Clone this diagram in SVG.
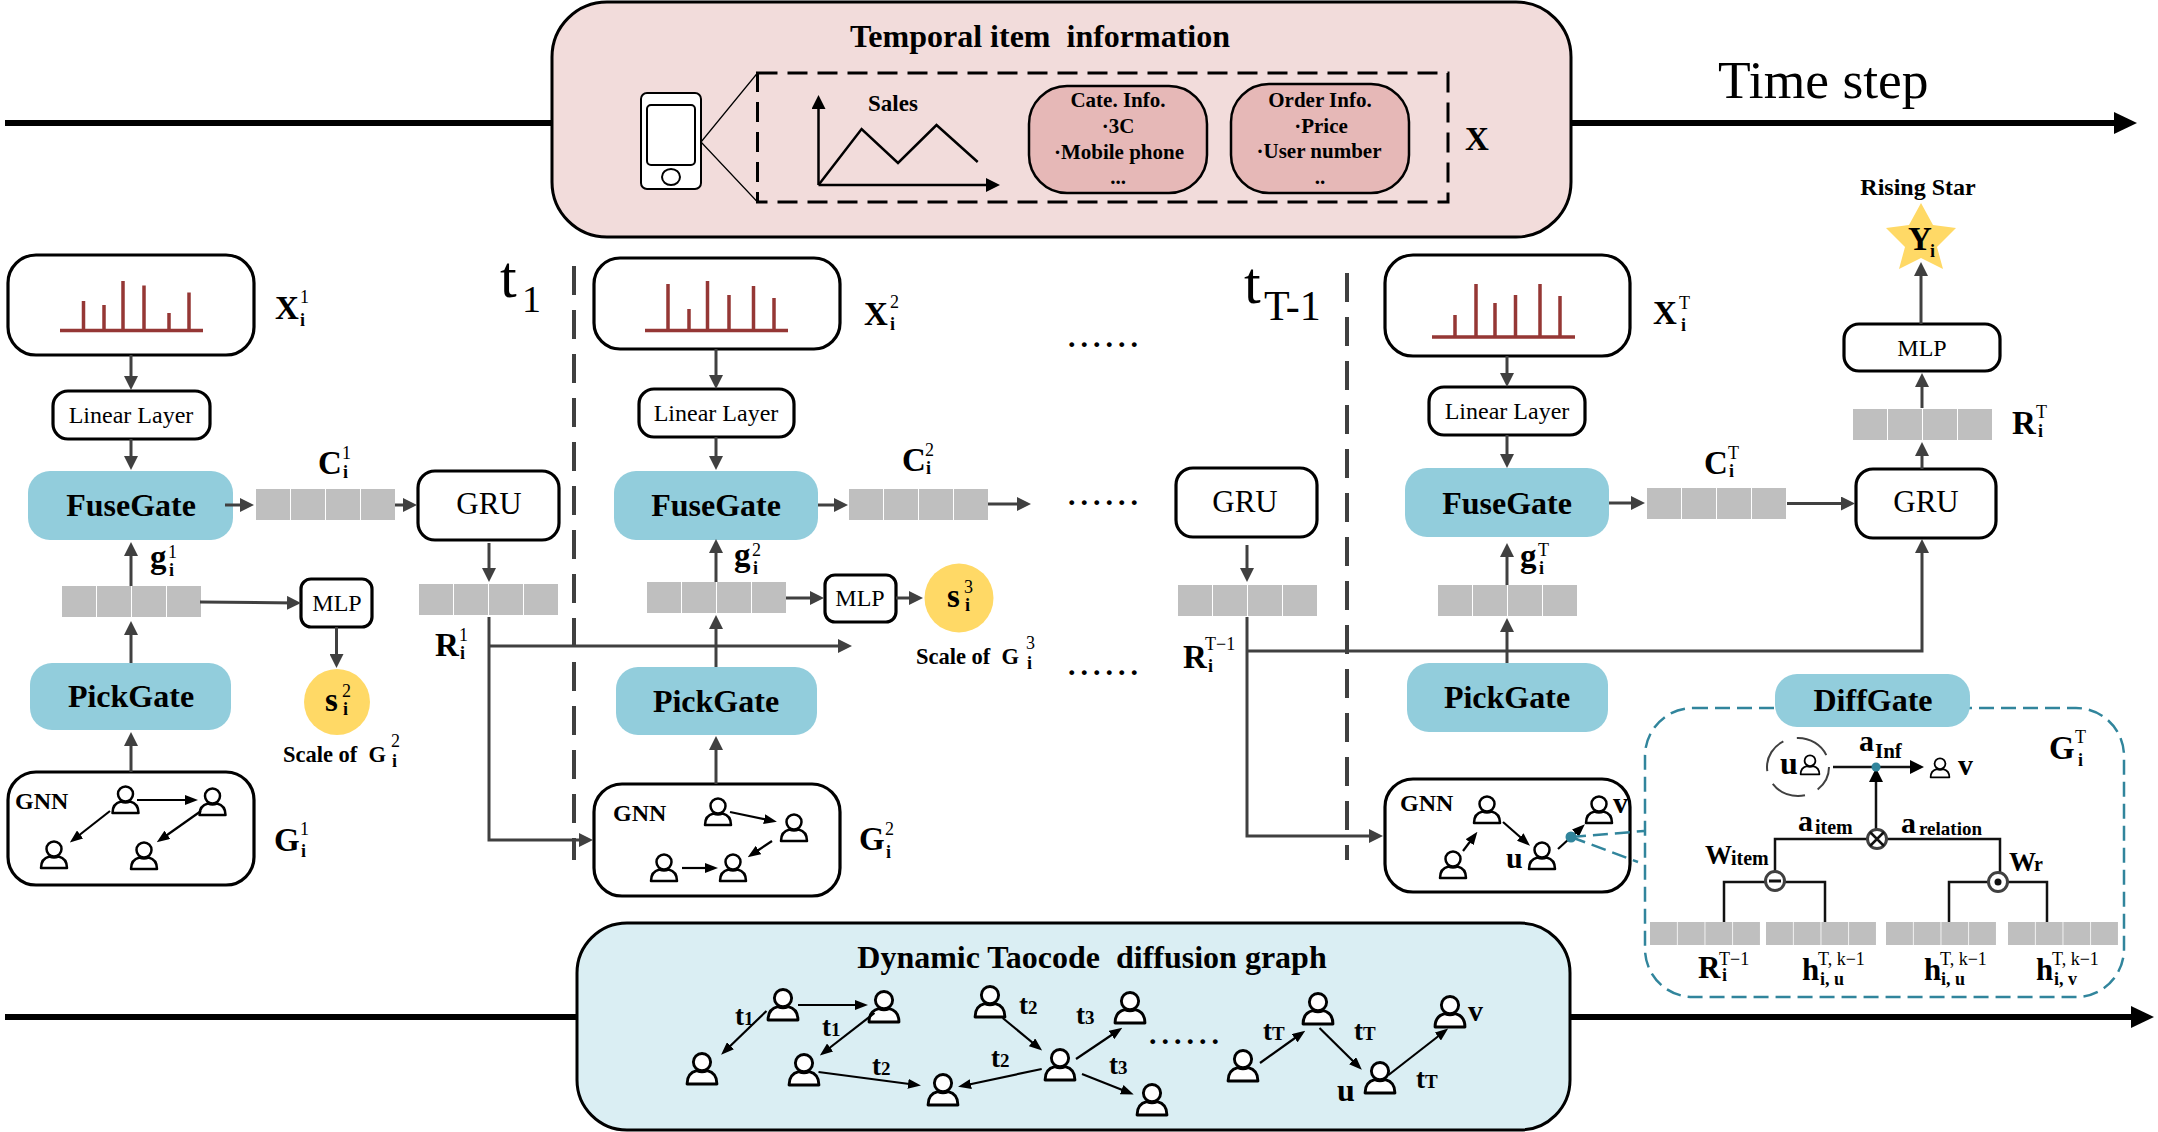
<svg xmlns="http://www.w3.org/2000/svg" width="2158" height="1132" viewBox="0 0 2158 1132">
<style>
text{font-family:"Liberation Serif","Times New Roman",serif;fill:#000;white-space:pre}
.b{font-weight:700}.c{text-anchor:middle}
.gate{font-size:32px;font-weight:700;text-anchor:middle}
.gru{font-size:31px;text-anchor:middle}
.mlp{font-size:24px;text-anchor:middle}
.lin{font-size:24px;text-anchor:middle}
.m{font-size:33px;font-weight:700}
.sup{font-size:18px}
.sub{font-size:18px;font-weight:700}
.small{font-size:24px;font-weight:700;text-anchor:middle}
.info{font-size:21px;font-weight:700;text-anchor:middle}
.dots{font-size:30px;font-weight:700;letter-spacing:5px}
.gl{font-size:30px;font-weight:700}
.gs{font-size:27px;font-weight:700}
.gnn{font-size:24px;font-weight:700}
.box{fill:#fff;stroke:#000;stroke-width:3.2}
.fill-gate{fill:#92CDDC}
.scale{fill:#FFD966}
.bar{fill:none;stroke:#953735;stroke-width:3.5}
.pink{fill:#E6B8B7;stroke:#000;stroke-width:2.5}
.cn3{fill:none;stroke:#404040;stroke-width:3;marker-end:url(#ah)}
.arr{fill:none;stroke:#000;stroke-width:2.2;marker-end:url(#ahs)}
.tree{fill:none;stroke:#111;stroke-width:2.5}
.axis{fill:none;stroke:#000;stroke-width:6}
.dash{fill:none;stroke:#404040;stroke-width:4;stroke-dasharray:29 15}
.teal{fill:none;stroke:#31859C;stroke-width:2.5;stroke-dasharray:15 7}
.op{fill:#fff;stroke:#404040;stroke-width:3}
.h{font-size:31px;font-weight:700}
.w{font-size:27px;font-weight:700}
.ts{font-size:19px}
</style>
<defs>
<marker id="ah" markerUnits="userSpaceOnUse" viewBox="0 0 14 14" markerWidth="14" markerHeight="14" refX="10" refY="7" orient="auto"><path d="M0 0L14 7L0 14Z" fill="#404040"/></marker>
<marker id="ahs" markerUnits="userSpaceOnUse" viewBox="0 0 13 10" markerWidth="13" markerHeight="10" refX="9" refY="5" orient="auto"><path d="M0 0L13 5L0 10Z" fill="#000"/></marker>
<marker id="ahk" markerUnits="userSpaceOnUse" viewBox="0 0 14 14" markerWidth="14" markerHeight="14" refX="10" refY="7" orient="auto"><path d="M0 0L14 7L0 14Z" fill="#000"/></marker>
<g id="p"><path d="M-13 13Q-13 3.5 -4.5 1.5Q0 3.5 4.5 1.5Q13 3.5 13 13Z" fill="#fff" stroke="#000" stroke-width="2.5" stroke-linejoin="round"/><circle cy="-6" r="7.5" fill="#fff" stroke="#000" stroke-width="2.5"/></g>
<g id="cells" fill="#BFBFBF"><rect width="34" height="31"/><rect x="35" width="34" height="31"/><rect x="70" width="34" height="31"/><rect x="105" width="34" height="31"/></g>
</defs>
<rect width="2158" height="1132" fill="#fff"/>

<g id="temporal">
<rect x="552" y="2" width="1019" height="235" rx="55" fill="#F2DCDB" stroke="#000" stroke-width="3"/>
<text class="b c" x="1040" y="47" style="font-size:32px">Temporal item  information</text>
<rect x="641" y="93" width="60" height="96" rx="6" fill="#fff" stroke="#000" stroke-width="2"/>
<rect x="647" y="105" width="48" height="60" rx="4" fill="#fff" stroke="#000" stroke-width="2"/>
<ellipse cx="671" cy="177" rx="9" ry="8" fill="#fff" stroke="#000" stroke-width="2"/>
<path d="M701 142L757.500 73M701 142L757.500 202" fill="none" stroke="#000" stroke-width="1.200"/>
<rect x="757.500" y="73" width="690.500" height="129" fill="none" stroke="#000" stroke-width="3" stroke-dasharray="20 10"/>
<path d="M818.500 185L861.600 129L898 163L936.500 125L977.700 162" fill="none" stroke="#000" stroke-width="2.500"/>
<path d="M818.500 185V99" fill="none" stroke="#000" stroke-width="2.500" marker-end="url(#ahk)"/>
<path d="M818.500 185H996" fill="none" stroke="#000" stroke-width="2.500" marker-end="url(#ahk)"/>
<text class="info" x="893" y="111" style="font-size:23px">Sales</text>
<rect x="1029" y="86" width="178" height="107" rx="38" class="pink"/>
<rect x="1231" y="84" width="178" height="109" rx="38" class="pink"/>
<text class="info" x="1118" y="107">Cate. Info.</text>
<text class="info" x="1118" y="133">·3C</text>
<text class="info" x="1119" y="159">·Mobile phone</text>
<text class="info" x="1118" y="184">...</text>
<text class="info" x="1320" y="107">Order Info.</text>
<text class="info" x="1321" y="133">·Price</text>
<text class="info" x="1319" y="158">·User number</text>
<text class="info" x="1320" y="184">..</text>
<text class="m" x="1465" y="150">X</text>
</g>
<g id="time-step"><text x="1718" y="98" font-size="53.500">Time step</text></g>

<g id="dynamic-graph">
<rect x="577" y="923" width="993" height="207" rx="50" fill="#DAEEF3" stroke="#000" stroke-width="3"/>
<text class="b c" x="1092" y="968" style="font-size:32px">Dynamic Taocode  diffusion graph</text>
<g transform="translate(783 1005) scale(1.150)"><use href="#p"/></g>
<g transform="translate(884 1007) scale(1.150)"><use href="#p"/></g>
<g transform="translate(702 1069) scale(1.150)"><use href="#p"/></g>
<g transform="translate(804 1070) scale(1.150)"><use href="#p"/></g>
<g transform="translate(943 1090) scale(1.150)"><use href="#p"/></g>
<g transform="translate(990 1002) scale(1.150)"><use href="#p"/></g>
<g transform="translate(1060 1065) scale(1.150)"><use href="#p"/></g>
<g transform="translate(1130 1008) scale(1.150)"><use href="#p"/></g>
<g transform="translate(1152 1100) scale(1.150)"><use href="#p"/></g>
<g transform="translate(1243 1066) scale(1.150)"><use href="#p"/></g>
<g transform="translate(1318 1009) scale(1.150)"><use href="#p"/></g>
<g transform="translate(1380 1078) scale(1.150)"><use href="#p"/></g>
<g transform="translate(1450 1012) scale(1.150)"><use href="#p"/></g>
<text class="gs" x="735" y="1025">t<tspan class="ts">1</tspan></text>
<text class="gs" x="822" y="1036">t<tspan class="ts">1</tspan></text>
<text class="gs" x="1019" y="1014">t<tspan class="ts">2</tspan></text>
<text class="gs" x="1076" y="1024">t<tspan class="ts">3</tspan></text>
<text class="gs" x="991" y="1067">t<tspan class="ts">2</tspan></text>
<text class="gs" x="872" y="1075">t<tspan class="ts">2</tspan></text>
<text class="gs" x="1109" y="1074">t<tspan class="ts">3</tspan></text>
<text class="gs" x="1263" y="1040">t<tspan class="ts">T</tspan></text>
<text class="gs" x="1354" y="1040">t<tspan class="ts">T</tspan></text>
<text class="gs" x="1416" y="1088">t<tspan class="ts">T</tspan></text>
<text class="gl" x="1337" y="1101" style="font-size:32px">u</text>
<text class="gl" x="1468" y="1021">v</text>
<text class="dots" x="1149" y="1044">......</text>
</g>

<g id="x1"><rect x="8" y="255" width="246" height="100" rx="28" class="box"/>
<path class="bar" d="M60 330.500H203M83.500 330V301M104 330V305M123 330V281M144 330V285.500M169 330V313M189 330V292.500"/></g>
<g id="x2"><rect x="594" y="258" width="246" height="91" rx="26" class="box"/>
<path class="bar" d="M645 330.500H788M668 330V284M689 330V309M707.500 330V281M729 330V295M753.500 330V286M774 330V298"/></g>
<g id="x3"><rect x="1385" y="255" width="245" height="101" rx="28" class="box"/>
<path class="bar" d="M1432 337H1575M1455 337V315M1476 337V284M1495 337V303M1515.500 337V295M1540 337V284M1560 337V296"/></g>
<g id="x-labels">
<text class="m" x="275" y="319">X</text><text class="sup" x="300" y="303">1</text><text class="sub" x="300" y="326">i</text>
<text class="m" x="864" y="325">X</text><text class="sup" x="890" y="308">2</text><text class="sub" x="890" y="330">i</text>
<text class="m" x="1653" y="324">X</text><text class="sup" x="1679" y="309">T</text><text class="sub" x="1681" y="331">i</text>
</g>

<g id="linear1"><rect x="53" y="391" width="157" height="48" rx="15" class="box"/><text class="lin" x="131" y="423">Linear Layer</text></g>
<g id="linear2"><rect x="639" y="389" width="155" height="48" rx="15" class="box"/><text class="lin" x="716" y="421">Linear Layer</text></g>
<g id="linear3"><rect x="1429" y="387" width="156" height="48" rx="15" class="box"/><text class="lin" x="1507" y="419">Linear Layer</text></g>

<g id="fuse1"><rect x="28" y="471" width="205" height="69" rx="22" class="fill-gate"/><text class="gate" x="131" y="516">FuseGate</text></g>
<g id="fuse2"><rect x="614" y="471" width="204" height="69" rx="22" class="fill-gate"/><text class="gate" x="716" y="516">FuseGate</text></g>
<g id="fuse3"><rect x="1405" y="468" width="204" height="69" rx="22" class="fill-gate"/><text class="gate" x="1507" y="514">FuseGate</text></g>
<g id="pick1"><rect x="30" y="663" width="201" height="67" rx="22" class="fill-gate"/><text class="gate" x="131" y="707">PickGate</text></g>
<g id="pick2"><rect x="616" y="667" width="201" height="68" rx="22" class="fill-gate"/><text class="gate" x="716" y="712">PickGate</text></g>
<g id="pick3"><rect x="1407" y="663" width="201" height="69" rx="22" class="fill-gate"/><text class="gate" x="1507" y="708">PickGate</text></g>

<g id="c-cells"><use href="#cells" x="256" y="489"/><use href="#cells" x="849" y="489"/><use href="#cells" x="1647" y="488"/></g>
<g id="g-cells"><use href="#cells" x="62" y="586"/><use href="#cells" x="647" y="582"/><use href="#cells" x="1438" y="585"/></g>
<g id="r-cells"><use href="#cells" x="419" y="584"/><use href="#cells" x="1178" y="585"/><use href="#cells" x="1853" y="409"/></g>
<g id="cell-labels">
<text class="m" x="318" y="474">C</text><text class="sup" x="342" y="459">1</text><text class="sub" x="343" y="478">i</text>
<text class="m" x="902" y="471">C</text><text class="sup" x="925" y="456">2</text><text class="sub" x="926" y="474">i</text>
<text class="m" x="1704" y="474">C</text><text class="sup" x="1728" y="459">T</text><text class="sub" x="1729" y="477">i</text>
<text class="m" x="150" y="568">g</text><text class="sup" x="168" y="558">1</text><text class="sub" x="169" y="576">i</text>
<text class="m" x="734" y="566">g</text><text class="sup" x="752" y="556">2</text><text class="sub" x="753" y="574">i</text>
<text class="m" x="1520" y="567">g</text><text class="sup" x="1538" y="556">T</text><text class="sub" x="1539" y="574">i</text>
<text class="m" x="435" y="656">R</text><text class="sup" x="459" y="641">1</text><text class="sub" x="460" y="659">i</text>
<text class="m" x="1183" y="668">R</text><text class="sup" x="1205" y="650">T−1</text><text class="sub" x="1208" y="672">i</text>
<text class="m" x="2012" y="434">R</text><text class="sup" x="2036" y="418">T</text><text class="sub" x="2038" y="437">i</text>
</g>

<g id="gru1"><rect x="418" y="471" width="141" height="69" rx="17" class="box"/><text class="gru" x="489" y="514">GRU</text></g>
<g id="gru2"><rect x="1176" y="468" width="141" height="69" rx="17" class="box"/><text class="gru" x="1245" y="512">GRU</text></g>
<g id="gru3"><rect x="1856" y="469" width="140" height="69" rx="17" class="box"/><text class="gru" x="1926" y="512">GRU</text></g>
<g id="mlp1"><rect x="301" y="579" width="71" height="48" rx="10" class="box"/><text class="mlp" x="337" y="611">MLP</text></g>
<g id="mlp2"><rect x="825" y="575" width="71" height="47" rx="10" class="box"/><text class="mlp" x="860" y="606">MLP</text></g>
<g id="mlp3"><rect x="1844" y="324" width="156" height="47" rx="15" class="box"/><text class="mlp" x="1922" y="356">MLP</text></g>

<g id="scale1"><circle cx="337" cy="702" r="33" class="scale"/><text class="m" x="325" y="711">s</text><text class="sup" x="342" y="697">2</text><text class="sub" x="343" y="715">i</text>
<text class="b" x="283" y="762" font-size="22.500">Scale of  G</text><text class="sup" x="391" y="747">2</text><text class="sub" x="392" y="767">i</text></g>
<g id="scale2"><circle cx="959" cy="598" r="34.500" class="scale"/><text class="m" x="947" y="607">s</text><text class="sup" x="964" y="593">3</text><text class="sub" x="965" y="611">i</text>
<text class="b" x="916" y="664" font-size="22.500">Scale of  G</text><text class="sup" x="1026" y="649">3</text><text class="sub" x="1027" y="669">i</text></g>

<g id="gnn1"><rect x="8" y="772" width="246" height="113" rx="28" class="box"/>
<text class="gnn" x="15" y="809">GNN</text>
<use href="#p" x="125.500" y="800"/><use href="#p" x="212.500" y="802"/><use href="#p" x="54" y="855"/><use href="#p" x="144" y="856"/></g>
<g id="gnn2"><rect x="594" y="784" width="246" height="112" rx="28" class="box"/>
<text class="gnn" x="613" y="821">GNN</text>
<use href="#p" x="718" y="812"/><use href="#p" x="794" y="828"/><use href="#p" x="664" y="868"/><use href="#p" x="733" y="868"/></g>
<g id="gnn3"><rect x="1385" y="779" width="245" height="113" rx="28" class="box"/>
<text class="gnn" x="1400" y="811">GNN</text>
<use href="#p" x="1487" y="810"/><use href="#p" x="1453" y="865"/><use href="#p" x="1542" y="856"/><use href="#p" x="1599" y="810"/>
<text class="gl" x="1506" y="868">u</text><text class="gl" x="1613" y="813">v</text></g>
<g id="g-labels">
<text class="m" x="274" y="851">G</text><text class="sup" x="300" y="835">1</text><text class="sub" x="301" y="857">i</text>
<text class="m" x="859" y="850">G</text><text class="sup" x="885" y="835">2</text><text class="sub" x="886" y="858">i</text>
</g>

<g id="time-labels"><text x="500" y="297" font-size="60">t</text><text x="522" y="312" font-size="38">1</text>
<text x="1244" y="303" font-size="60">t</text><text x="1264" y="320" font-size="42">T-1</text></g>
<g id="ellipsis"><text class="dots" x="1068" y="347">......</text><text class="dots" x="1068" y="505">......</text><text class="dots" x="1068" y="675">......</text></g>

<g id="star"><polygon points="1921,203 1933,225 1956,228 1937,247 1943,269 1921,258 1899,269 1905,247 1886,228 1909,225" class="scale"/>
<text class="m" x="1908" y="250">Y</text><text class="sub" x="1930" y="257">i</text>
<text class="small" x="1918" y="195">Rising Star</text></g>

<g id="diffgate-panel">
<rect x="1645" y="708" width="479" height="289" rx="48" fill="#fff" stroke="#31859C" stroke-width="2.500" stroke-dasharray="15 7"/>
<rect x="1775" y="674" width="195" height="53" rx="22" class="fill-gate"/>
<text class="gate" x="1873" y="711">DiffGate</text>
<ellipse cx="1798" cy="767" rx="31" ry="29" fill="none" stroke="#404040" stroke-width="2" stroke-dasharray="36 14" stroke-dashoffset="10"/>
<text class="gl" x="1780" y="774" style="font-size:32px">u</text>
<g transform="translate(1810 765) scale(.72)"><use href="#p"/></g>
<g transform="translate(1940 768) scale(.72)"><use href="#p"/></g>
<text class="gl" x="1958" y="775">v</text>
<text class="gl" x="1859" y="751">a</text><text class="b" x="1875" y="758" font-size="21">Inf</text>
<text class="gl" x="1798" y="831">a</text><text class="b" x="1815" y="834" font-size="20">item</text>
<text class="gl" x="1901" y="833">a</text><text class="b" x="1919" y="835" font-size="19">relation</text>
<text class="w" x="1705" y="864">W</text><text class="b" x="1731" y="865" font-size="20">item</text>
<text class="w" x="2009" y="871">W</text><text class="b" x="2034" y="871" font-size="20">r</text>
<text class="m" x="2049" y="759">G</text><text class="sup" x="2075" y="743">T</text><text class="sub" x="2078" y="766">i</text>
<use href="#cells" transform="translate(1650 922) scale(.791 .742)"/>
<use href="#cells" transform="translate(1766 922) scale(.791 .742)"/>
<use href="#cells" transform="translate(1886 922) scale(.791 .742)"/>
<use href="#cells" transform="translate(2008 922) scale(.791 .742)"/>
<text class="h" x="1698" y="978">R</text><text class="sup" x="1719" y="965">T−1</text><text class="sub" x="1722" y="981">i</text>
<text class="h" x="1802" y="980">h</text><text class="sup" x="1818" y="965">T, k−1</text><text class="sub" x="1820" y="985">i, u</text>
<text class="h" x="1924" y="980">h</text><text class="sup" x="1940" y="965">T, k−1</text><text class="sub" x="1941" y="985">i, u</text>
<text class="h" x="2036" y="980">h</text><text class="sup" x="2052" y="965">T, k−1</text><text class="sub" x="2054" y="985">i, v</text>
</g>

<g id="connectors">
<path class="axis" d="M5 123H552M1571 123H2120"/><polygon points="2114,112 2137,123 2114,134"/>
<path class="axis" d="M5 1017H577M1570 1017H2136"/><polygon points="2131,1006 2154,1017 2131,1028"/>
<path class="dash" d="M574 266V860"/><path class="dash" d="M1347 273V860"/>
<path class="cn3" d="M131 355V386"/><path class="cn3" d="M131 439V466"/><path class="cn3" d="M131 663V625"/><path class="cn3" d="M131 586V546"/><path class="cn3" d="M131 772V736"/>
<path class="cn3" d="M225 505H250"/><path class="cn3" d="M395 505H413"/><path class="cn3" d="M489 543V578"/><path class="cn3" d="M200 602L297 603"/><path class="cn3" d="M336.500 627V664"/>
<path class="cn3" d="M489 617V840H589"/><path class="cn3" d="M489 646H848"/>
<path class="cn3" d="M716 349V385"/><path class="cn3" d="M716 437V466"/><path class="cn3" d="M716 667V619"/><path class="cn3" d="M716 582V543"/><path class="cn3" d="M716 784V740"/>
<path class="cn3" d="M818 505H844"/><path class="cn3" d="M988 504H1027"/><path class="cn3" d="M786 598H820"/><path class="cn3" d="M896 598H919"/>
<path class="cn3" d="M1247 545V578"/><path class="cn3" d="M1247 617V836H1379"/><path class="cn3" d="M1247 651H1922V543"/>
<path class="cn3" d="M1507 356V383"/><path class="cn3" d="M1507 435V464"/><path class="cn3" d="M1609 503H1641"/><path class="cn3" d="M1787 503.500H1851"/>
<path class="cn3" d="M1507 663V622"/><path class="cn3" d="M1507 585V547"/>
<path class="cn3" d="M1922 469V446"/><path class="cn3" d="M1922 408V377"/><path class="cn3" d="M1921 324V266"/>
<path class="arr" d="M137 800H194"/><path class="arr" d="M110 811L73 840"/><path class="arr" d="M201 811L160 840"/>
<path class="arr" d="M730 812L773 821"/><path class="arr" d="M772 841L751 855"/><path class="arr" d="M682 868H714"/>
<path class="arr" d="M1463 851L1475 835"/><path class="arr" d="M1503 822L1527 843"/><path class="arr" d="M1558 849L1582 827"/>
<path class="arr" d="M798 1005H864"/><path class="arr" d="M766.500 1011L724 1052"/><path class="arr" d="M874.500 1013L823 1053"/><path class="arr" d="M818.500 1072L917 1085"/>
<path class="arr" d="M1002.700 1018L1039 1048"/><path class="arr" d="M1041.700 1069L962 1086"/><path class="arr" d="M1076 1059L1119 1030"/><path class="arr" d="M1082 1074L1130 1093"/>
<path class="arr" d="M1260 1063L1302 1033"/><path class="arr" d="M1319.500 1028L1359 1067"/><path class="arr" d="M1388.500 1075L1445 1031"/>
<path class="teal" d="M1571 837L1644 831M1571 837L1638 862"/>
<circle cx="1571" cy="837" r="5.500" fill="#31859C"/>
<path class="tree" d="M1775 872V839H2000V872M1724 922V882H1825V922M1949 922V882H2047V922"/>
<path class="tree" d="M1833 767H1920" marker-end="url(#ahk)"/>
<path class="tree" d="M1876 829V772" marker-end="url(#ahk)"/>
<circle cx="1876" cy="767" r="4.500" fill="#31859C"/>
</g>

<g id="op-multiply"><circle cx="1877" cy="839" r="9.500" class="op"/><path d="M1870 832L1884 846M1884 832L1870 846" stroke="#111" stroke-width="2.500"/></g>
<g id="op-subtract"><circle cx="1775" cy="881" r="9.500" class="op"/><path d="M1769 881H1781" stroke="#111" stroke-width="3"/></g>
<g id="op-dot"><circle cx="1998" cy="882" r="9.500" class="op"/><circle cx="1998" cy="882" r="3.500" fill="#111"/></g>
</svg>
